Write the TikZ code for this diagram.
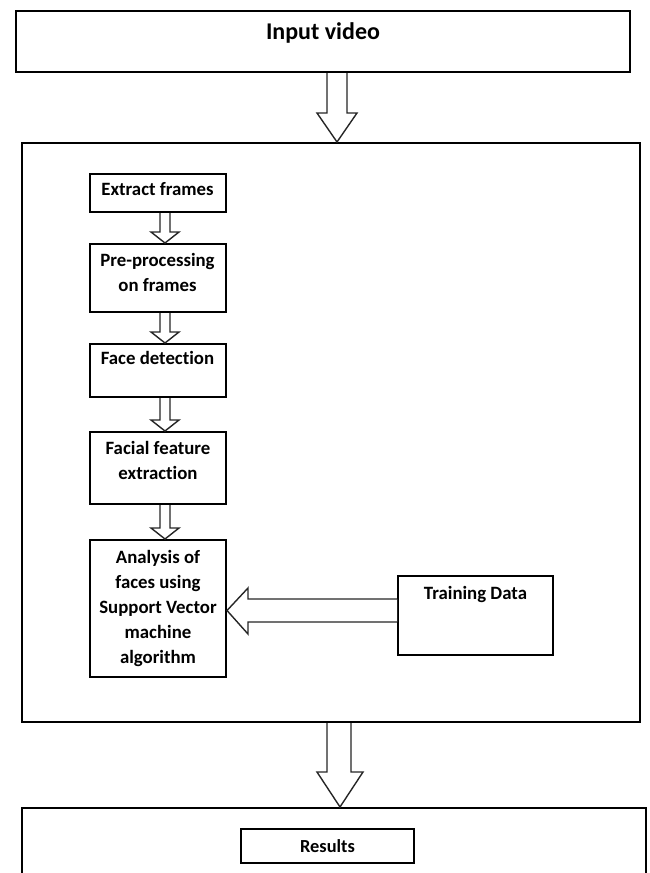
\documentclass[tikz,border=0pt]{standalone}
\usepackage{fontspec}
\setmainfont{Carlito}[Ligatures=NoCommon]

\begin{document}
\begin{tikzpicture}[x=0.5pt,y=-0.5pt]
\tikzstyle{every node}=[font=\bfseries\fontsize{9.4}{12.5}\selectfont]
\tikzstyle{block}=[draw, line width=1pt, rectangle, align=center, inner sep=0pt]
\tikzstyle{stage}=[block, minimum width=68pt]
\tikzstyle{hollow}=[draw=black!85, line width=0.7pt, fill=white, line join=miter]

\useasboundingbox (0,0) rectangle (649,873);
\clip (0,0) rectangle (649,873);

\node[block, minimum width=307pt, minimum height=30.5pt, text depth=10pt,
      font=\bfseries\fontsize{12}{14}\selectfont] (input) at (323,41.5) {Input video};
\node[block, minimum width=309.25pt, minimum height=289.5pt] (main) at (330.75,432.5) {};

\node[stage, minimum height=19pt, text depth=4pt] (extract) at (157.5,193) {Extract frames};
\node[stage, minimum height=34pt, text depth=6pt] (pre) at (157.5,278) {Pre-processing\\on frames};
\node[stage, minimum height=26.5pt, text depth=12.5pt] (face) at (157.5,370.5) {Face detection};
\node[stage, minimum height=36pt, text depth=8pt] (feature) at (158,468) {Facial feature\\extraction};
\node[stage, minimum height=68.5pt] (svm) at (158,608.5) {Analysis of\\faces using\\Support Vector\\machine\\algorithm};
\node[block, minimum width=77.5pt, minimum height=39.5pt, text depth=23pt] (train) at (475.5,615.5) {Training Data};

\node[block, minimum width=312.25pt, minimum height=46pt] (out) at (333.75,854) {};
\node[block, minimum width=86.5pt, minimum height=17pt, font=\bfseries\fontsize{9.2}{11}\selectfont] (results) at (327.5,846) {Results};

% big arrows
\draw[hollow] (327,0 |- input.south) -- (327,113) -- (317,113) -- (337,0 |- main.north)
              -- (357,113) -- (347,113) -- (347,0 |- input.south);
\draw[hollow] (327,0 |- main.south) -- (327,772) -- (317,772) -- (340,0 |- out.north)
              -- (363,772) -- (351,772) -- (351,0 |- main.south);

% small arrows
\draw[hollow] (160,0 |- extract.south) -- (160,232) -- (151,232) -- (165,0 |- pre.north)
              -- (179,232) -- (170,232) -- (170,0 |- extract.south);
\draw[hollow] (160,0 |- pre.south) -- (160,332) -- (151,332) -- (165,0 |- face.north)
              -- (179,332) -- (170,332) -- (170,0 |- pre.south);
\draw[hollow] (160,0 |- face.south) -- (160,420) -- (151,420) -- (165,0 |- feature.north)
              -- (179,420) -- (170,420) -- (170,0 |- face.south);
\draw[hollow] (160,0 |- feature.south) -- (160,528) -- (151,528) -- (165,0 |- svm.north)
              -- (179,528) -- (170,528) -- (170,0 |- feature.south);

% training data into the classifier
\draw[hollow] (train.west |- 0,599) -- (248,599) -- (248,588) -- (svm.east |- 0,610.5)
              -- (248,634) -- (248,622) -- (train.west |- 0,622);
\end{tikzpicture}
\end{document}
